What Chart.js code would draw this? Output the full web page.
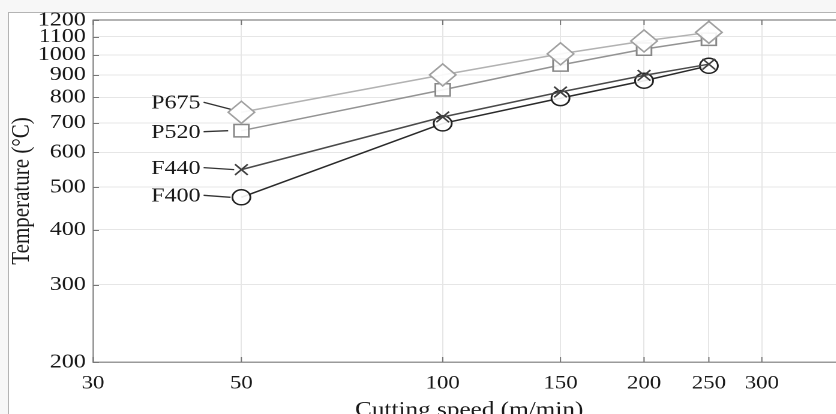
<!DOCTYPE html>
<html><head><meta charset="utf-8">
<script src="https://cdn.jsdelivr.net/npm/chart.js@4"></script>
<style>
html,body{margin:0;padding:0;overflow:hidden;background:#f7f7f7;width:836px;height:414px}
#frame{position:absolute;left:8px;top:12px;width:900px;height:500px;background:#fff;border:1px solid #b4b4b4}
#wrap{position:absolute;left:0;top:0;width:717px;height:423px;transform:scaleX(1.2);transform-origin:0 0}
canvas{display:block}
</style></head><body>
<div id="frame"></div>
<div id="wrap"><canvas id="c" width="717" height="423" style="width:717px;height:423px"></canvas></div>
<script>
const speeds = [50, 100, 150, 200, 250];
const P675 = [740, 900, 1005, 1075, 1125];
const P520 = [672, 832, 948, 1030, 1085];
const F440 = [548, 722, 823, 898, 952];
const F400 = [474, 698, 797, 873, 944];
const seriesNames = ['P675', 'P520', 'F440', 'F400'];
const xTicks = [30, 50, 100, 150, 200, 250, 300];
const yTicks = [200, 300, 400, 500, 600, 700, 800, 900, 1000, 1100, 1200];

const serif = "'Liberation Serif', 'DejaVu Serif', serif";
const styles = [
  {line:'#b2b2b2', pt:'#a0a0a0', shape:'rectRot', r:11, dy:-10, gap:9, ey:-3},
  {line:'#939393', pt:'#888', shape:'rect', r:8.7, dy:1, gap:11, ey:0},
  {line:'#4a4a4a', pt:'#404040', shape:'crossRot', r:7.5, dy:-2, gap:6, ey:0},
  {line:'#2a2a2a', pt:'#222', shape:'circle', r:7.5, dy:-2, gap:9, ey:0}
];
const seriesVals = [P675, P520, F440, F400];

const datasets = seriesVals.map((vals, i) => ({
  label: seriesNames[i],
  data: speeds.map((s, j) => ({x: s, y: vals[j]})),
  borderColor: styles[i].line,
  borderWidth: 1.5,
  pointStyle: styles[i].shape,
  pointRadius: styles[i].r,
  pointBorderColor: styles[i].pt,
  pointBackgroundColor: 'rgba(255,255,255,0.9)',
  pointBorderWidth: 1.5,
  fill: false,
  tension: 0
}));

const decor = {
  id: 'decor',
  beforeDatasetsDraw(chart) {
    const {ctx, chartArea: a, scales: {x, y}} = chart;
    ctx.save();
    ctx.strokeStyle = '#9a9a9a';
    ctx.lineWidth = 1.5;
    ctx.beginPath();
    ctx.moveTo(a.left, a.top); ctx.lineTo(a.right + 20, a.top);
    ctx.stroke();
    ctx.strokeStyle = '#777';
    ctx.lineWidth = 1;
    ctx.beginPath();
    xTicks.forEach(v => {
      const px = x.getPixelForValue(v);
      ctx.moveTo(px, a.bottom); ctx.lineTo(px, a.bottom - 5);
      ctx.moveTo(px, a.top); ctx.lineTo(px, a.top + 5);
    });
    yTicks.forEach(v => {
      const py = Math.round(y.getPixelForValue(v)) + 0.5;
      ctx.moveTo(a.left, py); ctx.lineTo(a.left + 5, py);
    });
    ctx.stroke();
    ctx.restore();
  },
  afterDatasetsDraw(chart) {
    const {ctx} = chart;
    ctx.save();
    ctx.font = "20px " + serif;
    ctx.textAlign = 'right';
    ctx.textBaseline = 'middle';
    seriesNames.forEach((name, i) => {
      const p = chart.getDatasetMeta(i).data[0];
      const st = styles[i];
      const ty = p.y + st.dy;
      ctx.fillStyle = '#1a1a1a';
      ctx.fillText(name, p.x - 34, ty + 1);
      ctx.strokeStyle = '#333';
      ctx.lineWidth = 1.3;
      ctx.beginPath();
      ctx.moveTo(p.x - 31.5, ty);
      ctx.lineTo(p.x - st.gap, p.y + st.ey);
      ctx.stroke();
    });
    ctx.restore();
  }
};

new Chart(document.getElementById('c'), {
  type: 'line',
  data: {datasets},
  options: {
    responsive: false,
    animation: false,
    devicePixelRatio: 2,
    events: [],
    layout: {padding: {top: 20, right: 12, left: 0, bottom: 0}},
    plugins: {legend: {display: false}, tooltip: {enabled: false}},
    scales: {
      x: {
        type: 'logarithmic',
        min: 30, max: 400,
        afterBuildTicks: s => { s.ticks = xTicks.map(v => ({value: v})); },
        afterFit: s => { s.height = 61; },
        ticks: {
          callback: v => String(v),
          font: {family: serif, size: 19},
          color: '#1a1a1a',
          padding: 10,
          maxRotation: 0, autoSkip: false
        },
        grid: {color: '#e6e6e6', lineWidth: 1, drawTicks: false},
        border: {color: '#9a9a9a', width: 1.5},
        title: {
          display: true, text: 'Cutting speed (m/min)',
          font: {family: serif, size: 21}, color: '#1a1a1a',
          padding: {top: 0, bottom: 0}
        }
      },
      y: {
        type: 'logarithmic',
        min: 200, max: 1200,
        afterBuildTicks: s => { s.ticks = yTicks.map(v => ({value: v})); },
        afterFit: s => { s.width = 77.5; },
        ticks: {
          callback: v => String(v),
          font: {family: serif, size: 20},
          color: '#1a1a1a',
          padding: 6,
          autoSkip: false
        },
        grid: {color: '#e6e6e6', lineWidth: 1, drawTicks: false},
        border: {color: '#9a9a9a', width: 1.5},
        title: {
          display: true, text: 'Temperature (°C)',
          font: {family: serif, size: 21}, color: '#1a1a1a',
          padding: {top: 6, bottom: 0}
        }
      }
    }
  },
  plugins: [decor]
});
</script>
</body></html>
